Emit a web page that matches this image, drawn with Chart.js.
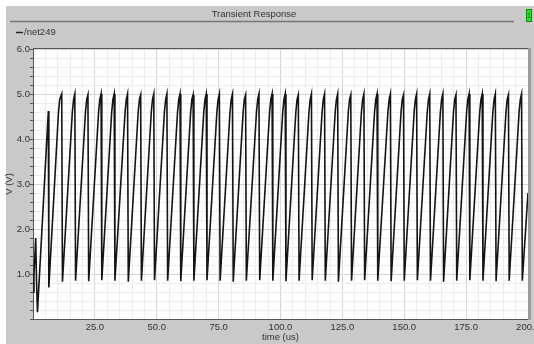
<!DOCTYPE html>
<html>
<head>
<meta charset="utf-8">
<script src="https://cdn.jsdelivr.net/npm/chart.js"></script>
<style>
  html, body { margin: 0; padding: 0; background: #fff; }
  #wrap { position: relative; width: 534px; height: 344px; }
</style>
</head>
<body>
<div id="wrap"><canvas id="tran" width="534" height="344"></canvas></div>
<script>
// net249 transient (one row per sawtooth cycle: peak, trough, knee, shoulder)
const timeUs = [
  0.0, 0.4, 1.1, 1.4, 1.8, 6.2, 6.4, 10.3, 10.8,
  11.6, 11.9, 15.9, 16.4,
  16.9, 17.2, 21.2, 21.7,
  22.2, 22.5, 26.5, 27.0,
  27.5, 27.8, 31.8, 32.3,
  32.8, 33.1, 37.2, 37.7,
  38.2, 38.5, 42.5, 43.0,
  43.5, 43.8, 47.8, 48.3,
  48.8, 49.1, 53.1, 53.6,
  54.1, 54.4, 58.4, 58.9,
  59.4, 59.7, 63.7, 64.2,
  64.7, 65.0, 69.0, 69.5,
  70.0, 70.3, 74.3, 74.8,
  75.3, 75.6, 79.6, 80.1,
  80.6, 80.9, 84.9, 85.4,
  85.9, 86.2, 90.3, 90.8,
  91.3, 91.6, 95.6, 96.1,
  96.6, 96.9, 100.9, 101.4,
  101.9, 102.2, 106.2, 106.7,
  107.2, 107.5, 111.5, 112.0,
  112.5, 112.8, 116.8, 117.3,
  117.8, 118.1, 122.1, 122.6,
  123.1, 123.4, 127.4, 127.9,
  128.4, 128.7, 132.7, 133.2,
  133.7, 134.0, 138.0, 138.5,
  139.0, 139.3, 143.4, 143.9,
  144.4, 144.7, 148.7, 149.2,
  149.7, 150.0, 154.0, 154.5,
  155.0, 155.3, 159.3, 159.8,
  160.3, 160.6, 164.6, 165.1,
  165.6, 165.9, 169.9, 170.4,
  170.9, 171.2, 175.2, 175.7,
  176.2, 176.5, 180.5, 181.0,
  181.5, 181.8, 185.8, 186.3,
  186.8, 187.1, 191.1, 191.6,
  192.1, 192.4, 196.4, 196.9,
  197.4, 197.7, 200.0
];

const volts = [
  0.60, 1.00, 1.80, 0.90, 0.15, 4.62, 0.70, 4.60, 4.88,
  5.00, 0.83, 4.60, 4.88,
  5.00, 0.85, 4.60, 4.88,
  4.98, 0.84, 4.60, 4.88,
  5.00, 0.86, 4.60, 4.88,
  5.00, 0.85, 4.60, 4.88,
  5.00, 0.83, 4.60, 4.88,
  4.98, 0.85, 4.60, 4.88,
  5.00, 0.86, 4.60, 4.88,
  5.00, 0.85, 4.60, 4.88,
  5.00, 0.84, 4.60, 4.88,
  4.98, 0.85, 4.60, 4.88,
  5.00, 0.86, 4.60, 4.88,
  5.00, 0.85, 4.60, 4.88,
  5.00, 0.83, 4.60, 4.88,
  4.98, 0.85, 4.60, 4.88,
  5.00, 0.86, 4.60, 4.88,
  5.00, 0.85, 4.60, 4.88,
  5.00, 0.84, 4.60, 4.88,
  4.98, 0.85, 4.60, 4.88,
  5.00, 0.86, 4.60, 4.88,
  5.00, 0.85, 4.60, 4.88,
  5.00, 0.83, 4.60, 4.88,
  4.98, 0.85, 4.60, 4.88,
  5.00, 0.86, 4.60, 4.88,
  5.00, 0.85, 4.60, 4.88,
  5.00, 0.84, 4.60, 4.88,
  4.98, 0.85, 4.60, 4.88,
  5.00, 0.86, 4.60, 4.88,
  5.00, 0.85, 4.60, 4.88,
  5.00, 0.83, 4.60, 4.88,
  4.98, 0.85, 4.60, 4.88,
  5.00, 0.86, 4.60, 4.88,
  5.00, 0.85, 4.60, 4.88,
  5.00, 0.84, 4.60, 4.88,
  4.98, 0.85, 4.60, 4.88,
  5.00, 0.85, 2.80
];

const chartTitle = 'Transient Response';
const seriesName = '/net249';
const xTitle = 'time (us)';
const yTitle = 'V (V)';

const FONT = "'Liberation Sans Narrow', 'Arial Narrow', 'Liberation Sans', Arial, sans-serif";
Chart.defaults.font.family = FONT;
Chart.defaults.font.size = 9.5;
Chart.defaults.color = '#333';

const isWhole = (v, step) => Math.abs(v / step - Math.round(v / step)) < 1e-6;

// minor grid every 5us / 0.2V, major every 25us / 1V
function xGrid(ctx) {
    return isWhole(ctx.tick.value, 25) ? '#d6d6d6' : '#ededed';
}
function yGrid(ctx) {
    return isWhole(ctx.tick.value, 1) ? '#d6d6d6' : '#ededed';
}

// window chrome: grey panel, title bar, legend, plot frame
const chrome = {
    id: 'chrome',
    beforeDraw(chart) {
        const ctx = chart.ctx;
        const a = chart.chartArea;
        ctx.save();
        ctx.fillStyle = '#fff';
        ctx.fillRect(0, 0, chart.width, chart.height);
        ctx.fillStyle = '#c9c9c9';
        ctx.fillRect(6, 6, chart.width - 6, chart.height - 6);

        // title bar
        ctx.fillStyle = '#333';
        ctx.font = '9.5px ' + FONT;
        ctx.textAlign = 'center';
        ctx.textBaseline = 'middle';
        ctx.fillText(chartTitle, 254, 14.5);
        ctx.strokeStyle = '#777';
        ctx.lineWidth = 1.5;
        ctx.beginPath();
        ctx.moveTo(10, 21.5);
        ctx.lineTo(514, 21.5);
        ctx.stroke();

        // green marker box
        ctx.fillStyle = '#2be02b';
        ctx.fillRect(526, 9, 6, 13);
        ctx.strokeStyle = '#0e8a0e';
        ctx.lineWidth = 1;
        ctx.strokeRect(526.5, 9.5, 5, 12);
        ctx.fillStyle = '#0b5a0b';
        ctx.font = '7px ' + FONT;
        ctx.fillText('1', 529, 16);

        // legend
        ctx.strokeStyle = '#222';
        ctx.lineWidth = 1.5;
        ctx.beginPath();
        ctx.moveTo(16, 32.5);
        ctx.lineTo(23, 32.5);
        ctx.stroke();
        ctx.fillStyle = '#333';
        ctx.font = '9.5px ' + FONT;
        ctx.textAlign = 'left';
        ctx.fillText(seriesName, 24, 32.5);

        // plot background
        ctx.fillStyle = '#fff';
        ctx.fillRect(a.left, a.top, a.right - a.left, a.bottom - a.top);
        ctx.restore();
    },
    afterDraw(chart) {
        const ctx = chart.ctx;
        const a = chart.chartArea;
        ctx.save();
        ctx.strokeStyle = '#555';
        ctx.lineWidth = 1;
        ctx.beginPath();
        ctx.moveTo(a.left, a.top - 0.5);
        ctx.lineTo(a.right + 1, a.top - 0.5);
        ctx.stroke();
        ctx.strokeStyle = '#9a9a9a';
        ctx.lineWidth = 3;
        ctx.beginPath();
        ctx.moveTo(a.right + 1.5, a.top - 1);
        ctx.lineTo(a.right + 1.5, a.bottom + 1);
        ctx.stroke();
        ctx.restore();
    }
};

const points = timeUs.map((t, i) => ({ x: t, y: volts[i] }));

new Chart(document.getElementById('tran'), {
    type: 'line',
    data: {
        datasets: [{
            label: seriesName,
            data: points,
            borderColor: '#141414',
            borderWidth: 1.6,
            pointRadius: 0,
            tension: 0,
            fill: false
        }]
    },
    options: {
        responsive: false,
        animation: false,
        events: [],
        layout: {
            padding: { top: 49, right: 6, left: 0, bottom: 0 }
        },
        plugins: {
            legend: { display: false },
            tooltip: { enabled: false }
        },
        scales: {
            x: {
                type: 'linear',
                min: 0,
                max: 200,
                grid: { color: xGrid, drawTicks: false },
                border: { color: '#555', width: 1 },
                ticks: {
                    stepSize: 5,
                    autoSkip: false,
                    maxRotation: 0,
                    padding: 3,
                    callback: v => (v > 0 && isWhole(v, 25)) ? v.toFixed(1) : ''
                },
                title: { display: true, text: xTitle, padding: { top: 0, bottom: 1 } },
                afterFit: s => { s.height = 25; s.paddingLeft = 0; s.paddingRight = 0; }
            },
            y: {
                min: 0,
                max: 6,
                grid: { color: yGrid, tickColor: '#555', tickLength: 3 },
                border: { color: '#555', width: 1 },
                ticks: {
                    stepSize: 0.2,
                    autoSkip: false,
                    padding: 0,
                    callback: v => (v > 0 && isWhole(v, 1)) ? v.toFixed(1) : ''
                },
                title: { display: true, text: yTitle, padding: { top: 4, bottom: 0 } },
                afterFit: s => { s.width = 33; s.paddingTop = 0; s.paddingBottom = 0; }
            }
        }
    },
    plugins: [chrome]
});
</script>
</body>
</html>
